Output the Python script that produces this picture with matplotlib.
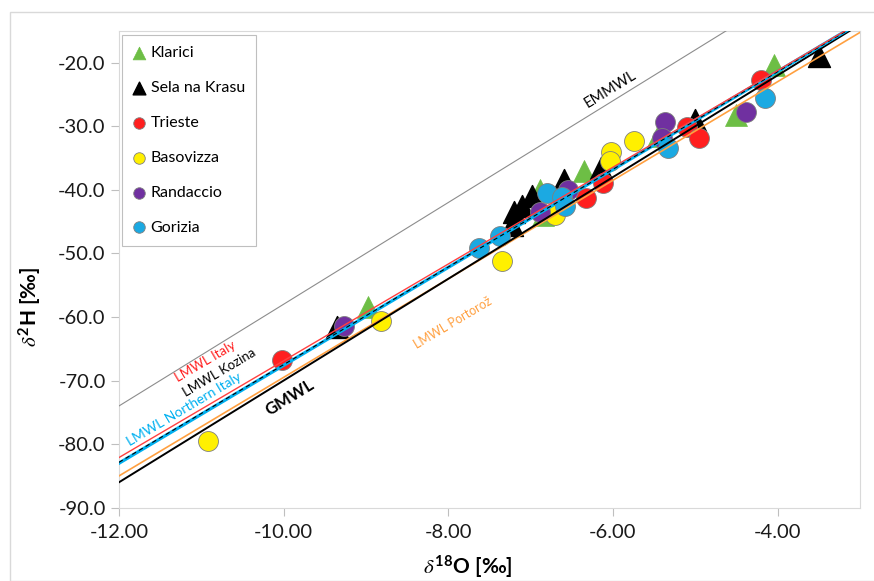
import numpy as np
import matplotlib
matplotlib.use("Agg")
import matplotlib.pyplot as plt
from matplotlib.patches import Rectangle

plt.rcParams['font.family'] = ['Lato', 'DejaVu Sans']
plt.rcParams['mathtext.fontset'] = 'custom'
plt.rcParams['mathtext.rm'] = 'Lato:bold'
plt.rcParams['mathtext.bf'] = 'Lato:bold'
plt.rcParams['mathtext.it'] = 'STIXGeneral:italic'

# sample data (d18O, d2H)
klarici_x = [-4.05, -4.5, -5.45, -6.35, -6.88, -6.85, -8.98]
klarici_y = [-20.3, -28.2, -31.5, -37.0, -40.0, -44.0, -58.5]
sela_x = [-3.5, -5.0, -6.15, -6.6, -6.98, -7.1, -7.2, -7.22, -9.35]
sela_y = [-19.0, -29.0, -36.5, -38.5, -41.0, -42.5, -43.5, -45.5, -61.5]
trieste_x = [-4.2, -5.1, -4.95, -6.12, -6.33, -10.02]
trieste_y = [-22.7, -30.2, -31.8, -38.9, -41.3, -66.8]
basovizza_x = [-5.75, -6.02, -6.03, -6.7, -7.35, -8.82, -10.92]
basovizza_y = [-32.3, -34.0, -35.5, -44.0, -51.2, -60.6, -79.5]
randaccio_x = [-4.38, -5.37, -5.4, -6.55, -6.88, -9.27]
randaccio_y = [-27.7, -29.3, -31.8, -40.0, -43.5, -61.4]
gorizia_x = [-4.15, -5.33, -6.8, -6.62, -6.58, -7.37, -7.63]
gorizia_y = [-25.5, -33.4, -40.5, -41.2, -42.5, -47.2, -49.1]

# meteoric water lines: slope, intercept
lines = {
    "GMWL": (8.0, 10.0),
    "EMMWL": (8.0, 22.0),
    "LMWL Italy": (7.61, 9.21),
    "LMWL Northern Italy": (7.70, 9.4),
    "LMWL Kozina": (7.68, 9.3),
    "LMWL Portoroz": (7.75, 8.0),
}

fig = plt.figure(figsize=(8.74, 5.81), dpi=100)
ax = fig.add_axes([0.136, 0.126, 0.848, 0.821])

# outer chart border
fig.patches.append(Rectangle((10 / 874, 0), 1.0, 1 - 12 / 581, transform=fig.transFigure,
                             fill=False, edgecolor='#D9D9D9', linewidth=1.0))

mk = 205
tri = 250
ax.scatter(klarici_x, klarici_y, s=tri, marker='^', color='#6DBE45', edgecolor='#6DBE45',
           linewidth=0.5, label='Klarici', zorder=2)
ax.scatter(sela_x, sela_y, s=tri, marker='^', color='black', label='Sela na Krasu', zorder=2)
ax.scatter(trieste_x, trieste_y, s=mk, marker='o', color='#FF1F1F', edgecolor='#7F7F7F',
           linewidth=0.6, label='Trieste', zorder=2)
ax.scatter(basovizza_x, basovizza_y, s=mk, marker='o', color='#FFF000', edgecolor='#7F7F7F',
           linewidth=0.6, label='Basovizza', zorder=2)
ax.scatter(randaccio_x, randaccio_y, s=mk, marker='o', color='#7030A0', edgecolor='#7F7F7F',
           linewidth=0.6, label='Randaccio', zorder=2)
ax.scatter(gorizia_x, gorizia_y, s=mk, marker='o', color='#1BA9E2', edgecolor='#7F7F7F',
           linewidth=0.6, label='Gorizia', zorder=2)

xs = np.array([-12.0, -3.0])
styles = {
    "EMMWL": dict(color='#8C8C8C', lw=0.8, ls='-'),
    "LMWL Portoroz": dict(color='#FFA040', lw=1.2, ls='-'),
    "GMWL": dict(color='black', lw=1.4, ls='-'),
    "LMWL Northern Italy": dict(color='#00B0F0', lw=2.4, ls='-'),
    "LMWL Kozina": dict(color='black', lw=0.8, ls=(0, (4, 3))),
    "LMWL Italy": dict(color='#FF4040', lw=1.0, ls='-'),
}
for name, st in styles.items():
    a, b = lines[name]
    ax.plot(xs, a * xs + b, zorder=3, **st)

# line labels
labels = [
    ("EMMWL", -6.03, -24.2, 8.0, 'black', 10.5, 'normal'),
    ("LMWL Italy", -10.95, -67.0, 7.61, '#FF2020', 9.5, 'normal'),
    ("LMWL Kozina", -10.78, -68.8, 7.68, 'black', 9.5, 'normal'),
    ("LMWL Northern Italy", -11.21, -74.6, 7.7, '#00B0F0', 10, 'normal'),
    ("GMWL", -9.93, -72.7, 8.0, 'black', 12, 'bold'),
    ("LMWL Portorož", -7.95, -60.9, 7.75, '#FFA040', 9, 'normal'),
]
for txt, x, y, slope, col, fs, fw in labels:
    ax.text(x, y, txt, color=col, fontsize=fs, fontweight=fw, ha='center', va='center',
            rotation=np.degrees(np.arctan(slope)), transform_rotates_text=True,
            rotation_mode='anchor', zorder=5)

ax.set_xlim(-12, -3)
ax.set_ylim(-90, -15)
ax.set_xticks([-12, -10, -8, -6, -4])
ax.set_yticks(np.arange(-90, -15, 10))
ax.set_xticklabels([f"{v:.2f}" for v in [-12, -10, -8, -6, -4]])
ax.set_yticklabels([f"{v:.1f}" for v in np.arange(-90, -15, 10)])
ax.tick_params(labelsize=14.5, length=6, color='#BFBFBF', labelcolor='#1A1A1A')
ax.tick_params(axis='x', pad=6)
for sp in ax.spines.values():
    sp.set_color('#D9D9D9')

ax.set_xlabel(r'$\delta^{\mathrm{18}}$O [‰]', fontsize=15, fontweight='bold')
ax.set_ylabel(r'$\delta^{\mathrm{2}}$H [‰]', fontsize=15, fontweight='bold')
ax.xaxis.set_label_coords(0.471, -0.095)
ax.yaxis.set_label_coords(-0.103, 0.421)

leg = ax.legend(loc='upper left', bbox_to_anchor=(0.004, 0.992), borderaxespad=0,
                fontsize=11.5, markerscale=0.58, handlelength=0.8, handletextpad=0.3,
                labelspacing=1.3, fancybox=False, edgecolor='#BFBFBF', framealpha=1,
                borderpad=0.7)
leg.get_frame().set_linewidth(0.8)

plt.savefig('out.png', dpi=100)
